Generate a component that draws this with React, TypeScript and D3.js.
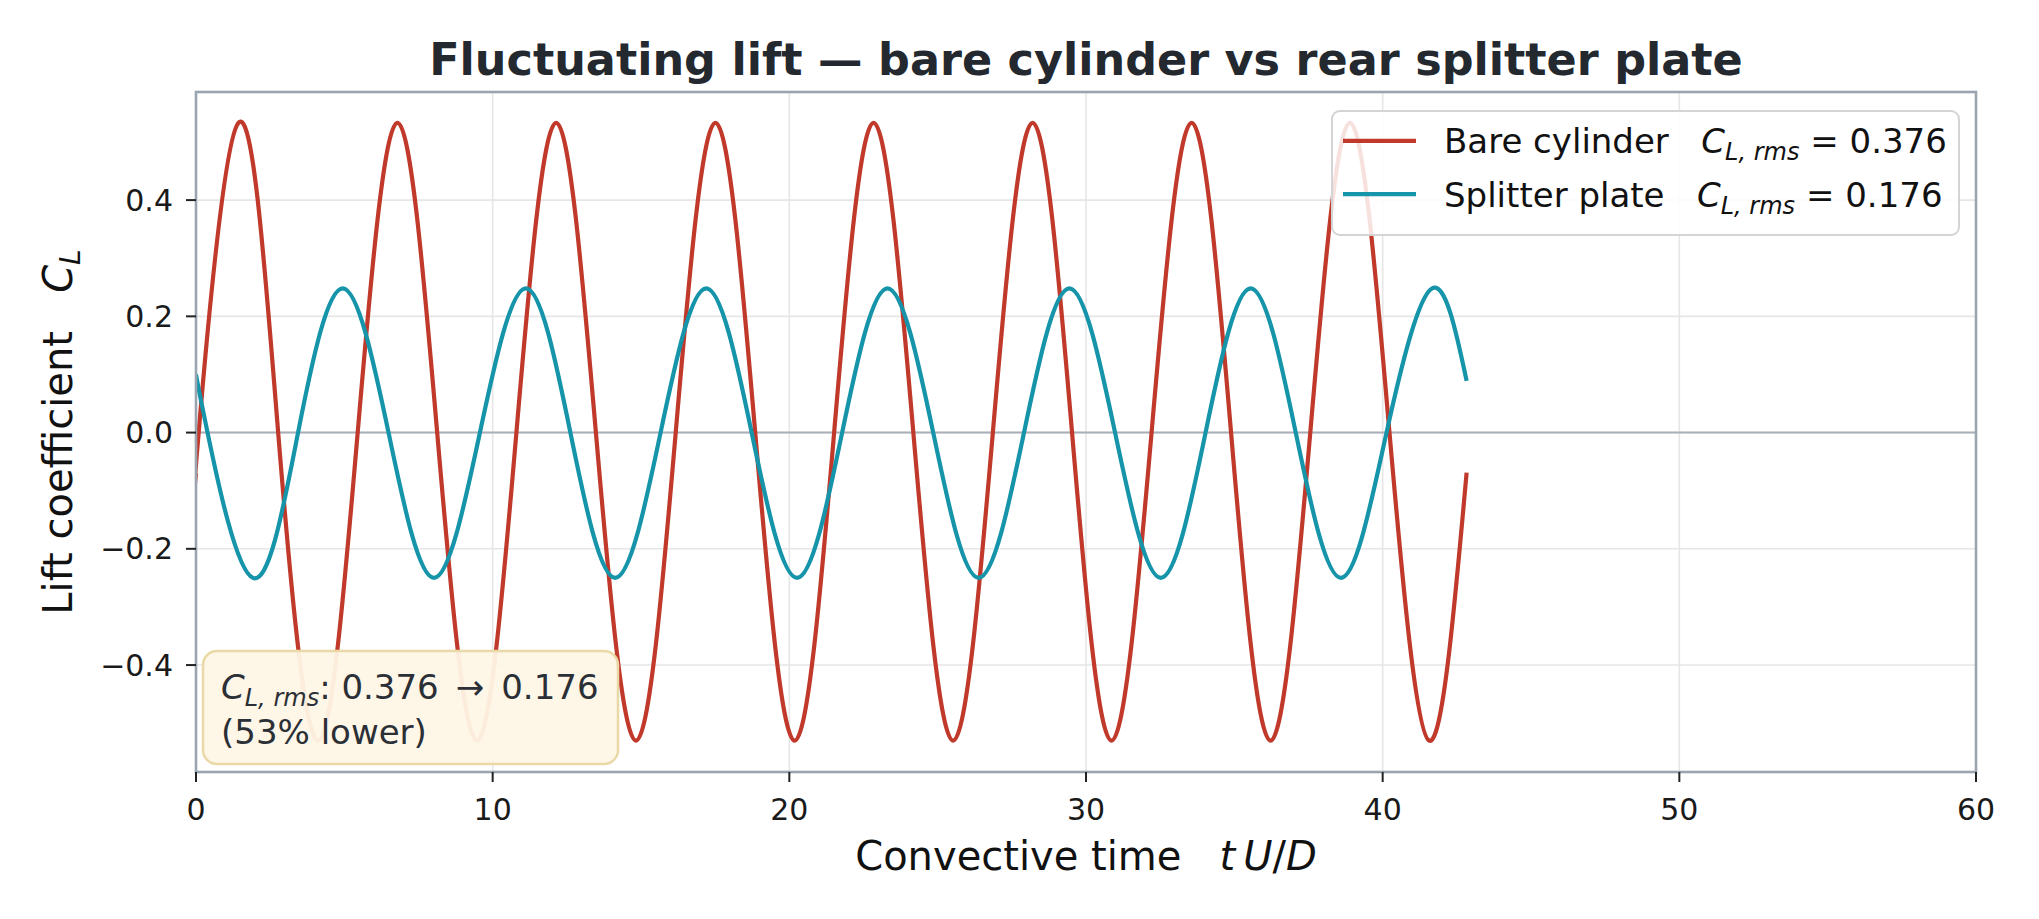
import * as d3 from 'd3';

// Extrema and zero crossings of each lift trace
const bareT = [0, 0.09, 1.43, 2.77, 4.12, 5.45, 6.79, 8.13, 9.47, 10.8, 12.14, 13.48, 14.83, 16.17, 17.51, 18.85, 20.18, 21.51, 22.84, 24.18, 25.52, 26.86, 28.2, 29.53, 30.86, 32.21, 33.56, 34.89, 36.22, 37.56, 38.9, 40.23, 41.57, 42.83];
const bareCL = [-0.07, 0, 0.533, 0, -0.53, 0, 0.533, 0, -0.53, 0, 0.533, 0, -0.53, 0, 0.533, 0, -0.53, 0, 0.533, 0, -0.53, 0, 0.533, 0, -0.53, 0, 0.533, 0, -0.53, 0, 0.533, 0, -0.53, -0.069];

const plateT = [0, 0.39, 1.92, 3.44, 4.95, 6.49, 8.02, 9.57, 11.12, 12.62, 14.13, 15.66, 17.2, 18.73, 20.26, 21.78, 23.31, 24.85, 26.38, 27.91, 29.44, 30.98, 32.52, 34.03, 35.55, 37.07, 38.6, 40.13, 41.66, 42.83];
const plateCL = [0.1, 0, -0.25, 0, 0.248, 0, -0.25, 0, 0.248, 0, -0.25, 0, 0.248, 0, -0.25, 0, 0.248, 0, -0.25, 0, 0.248, 0, -0.25, 0, 0.248, 0, -0.25, 0, 0.248, 0.089];

const xTicks = [0, 10, 20, 30, 40, 50, 60];
const yTicks = [-0.4, -0.2, 0.0, 0.2, 0.4];

const series = [
  { name: 'Bare cylinder', rms: '0.376', color: '#c0392b', t: bareT, v: bareCL },
  { name: 'Splitter plate', rms: '0.176', color: '#1694a9', t: plateT, v: plateCL },
];

const W = 2039;
const H = 919;
const FONT = '"DejaVu Sans", "Liberation Sans", sans-serif';

export default function App() {
  const left = 196, right = 1976, top = 92, bottom = 772;
  const x = d3.scaleLinear().domain([0, 60]).range([left, right]);
  const y = d3.scaleLinear().domain([-0.584, 0.586]).range([bottom, top]);

  const line = d3.line<[number, number]>()
    .x(d => x(d[0]))
    .y(d => y(d[1]))
    .curve(d3.curveNatural);

  const fmt = (v: number) => (v < 0 ? '\u2212' : '') + Math.abs(v).toFixed(1);
  const cx = (left + right) / 2;

  return (
    <svg width={W} height={H} style={{ position: 'absolute', left: 0, top: 0, background: '#fff' }} fontFamily={FONT}>
      <defs>
        <clipPath id="plot">
          <rect x={left} y={top} width={right - left} height={bottom - top} />
        </clipPath>
      </defs>

      {/* grid */}
      {xTicks.map(t => (
        <line key={'gx' + t} x1={x(t)} x2={x(t)} y1={top} y2={bottom} stroke="#e6e6e6" strokeWidth={1.6} />
      ))}
      {yTicks.map(t => (
        <line key={'gy' + t} x1={left} x2={right} y1={y(t)} y2={y(t)} stroke="#e6e6e6" strokeWidth={1.6} />
      ))}
      {/* zero line */}
      <line x1={left} x2={right} y1={y(0)} y2={y(0)} stroke="#a9b0b8" strokeWidth={2} />

      {/* traces */}
      <g clipPath="url(#plot)">
        {series.map(s => (
          <path key={s.name}
            d={line(s.t.map((t, i) => [t, s.v[i]] as [number, number])) || ''}
            fill="none" stroke={s.color} strokeWidth={4.2} strokeLinejoin="round" />
        ))}
      </g>

      {/* spines */}
      <rect x={left} y={top} width={right - left} height={bottom - top} fill="none" stroke="#9ba5b0" strokeWidth={2.6} />

      {/* y ticks */}
      {yTicks.map(t => (
        <g key={'yt' + t}>
          <line x1={left - 10} x2={left} y1={y(t)} y2={y(t)} stroke="#222" strokeWidth={2} />
          <text x={173} y={y(t) + 10.5} textAnchor="end" fontSize={30} fill="#1a1a1a">{fmt(t)}</text>
        </g>
      ))}
      {/* x ticks */}
      {xTicks.map(t => (
        <g key={'xt' + t}>
          <line x1={x(t)} x2={x(t)} y1={bottom} y2={bottom + 10} stroke="#222" strokeWidth={2} />
          <text x={x(t)} y={820} textAnchor="middle" fontSize={30} fill="#1a1a1a">{t}</text>
        </g>
      ))}

      {/* title */}
      <text x={cx} y={75} textAnchor="middle" fontSize={44.5} fontWeight="bold" fill="#24292f">
        Fluctuating lift — bare cylinder vs rear splitter plate
      </text>

      {/* axis labels */}
      <text x={cx} y={870} textAnchor="middle" fontSize={40} fill="#111" style={{ whiteSpace: 'pre' }}>
        {'Convective time   '}
        <tspan fontStyle="italic">t</tspan>
        <tspan fontStyle="italic">{'\u2009U'}</tspan>
        <tspan>/</tspan>
        <tspan fontStyle="italic">D</tspan>
      </text>
      <text transform={`translate(72,${(top + bottom) / 2}) rotate(-90)`} textAnchor="middle" fontSize={40} fill="#111" style={{ whiteSpace: 'pre' }}>
        {'Lift coefficient   '}
        <tspan fontStyle="italic">C</tspan>
        <tspan fontStyle="italic" fontSize={28} dy={8}>L</tspan>
      </text>

      {/* legend */}
      <rect x={1332} y={111} width={627} height={124} rx={8} fill="#fff" fillOpacity={0.85} stroke="#d4d4d4" strokeWidth={2} />
      {series.map((s, i) => {
        const ly = 140.8 + i * 53.4;
        return (
          <g key={'lg' + s.name}>
            <line x1={1343} x2={1416} y1={ly} y2={ly} stroke={s.color} strokeWidth={4.2} />
            <text x={1444} y={ly + 12.4} fontSize={34} fill="#111" style={{ whiteSpace: 'pre' }}>
              {s.name + '   '}
              <tspan fontStyle="italic">C</tspan>
              <tspan fontStyle="italic" fontSize={24} dy={7}>{'L, rms'}</tspan>
              <tspan dy={-7}>{' = ' + s.rms}</tspan>
            </text>
          </g>
        );
      })}

      {/* annotation */}
      <rect x={203} y={651} width={415} height={113} rx={14} fill="#fef6e6" fillOpacity={0.95} stroke="#ead8a6" strokeWidth={2.5} />
      <text x={221} y={699} fontSize={34} fill="#2b2f36" style={{ whiteSpace: 'pre' }}>
        <tspan fontStyle="italic">C</tspan>
        <tspan fontStyle="italic" fontSize={24} dy={7}>{'L, rms'}</tspan>
        <tspan dy={-7}>{': 0.376\u2002\u2192\u20020.176'}</tspan>
      </text>
      <text x={221} y={744} fontSize={34} fill="#2b2f36">(53% lower)</text>
    </svg>
  );
}
